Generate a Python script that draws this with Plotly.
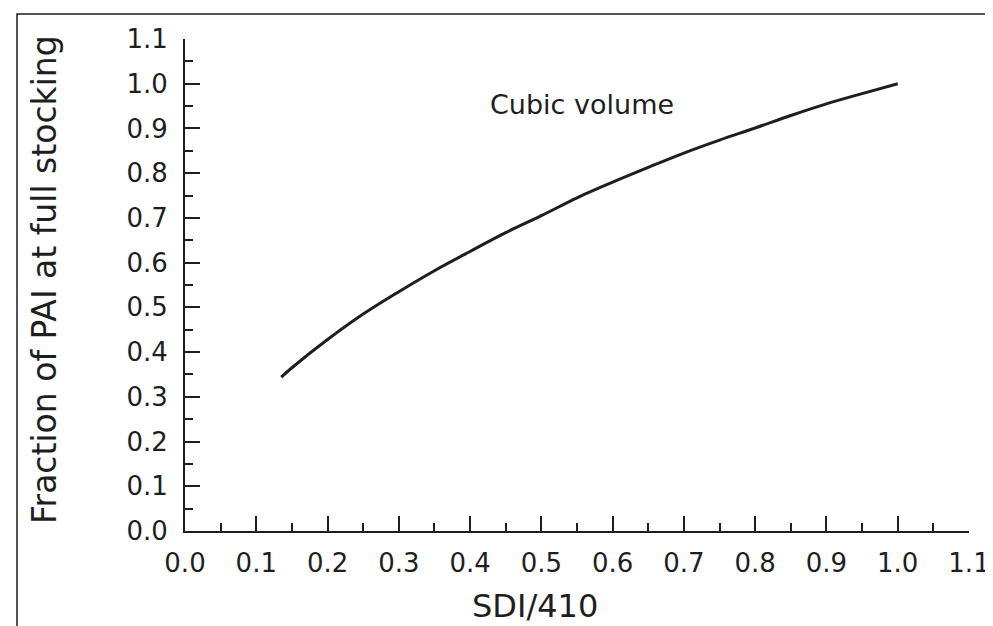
import plotly.graph_objects as go

# Data
sdi_ratio = [0.135, 0.15, 0.2, 0.25, 0.3, 0.35, 0.4, 0.45, 0.5, 0.55, 0.6,
             0.65, 0.7, 0.75, 0.8, 0.85, 0.9, 0.95, 1.0]
pai_fraction = [0.344, 0.365, 0.428, 0.485, 0.535, 0.582, 0.625, 0.667, 0.705,
                0.745, 0.780, 0.813, 0.845, 0.874, 0.901, 0.929, 0.955, 0.978, 1.0]

x_title = "SDI/410"
y_title = "Fraction of PAI at full stocking"
curve_label = "Cubic volume"

INK = "#1e1e1e"
FONT = "DejaVu Sans"

W, H = 993, 626
L, R, T, B = 177, 32, 31, 103
pw, ph = W - L - R, H - T - B


def px(xp):
    return (xp - L) / pw


def py(yp):
    return (H - B - yp) / ph


fig = go.Figure()
fig.add_trace(go.Scatter(
    x=sdi_ratio, y=pai_fraction, mode="lines",
    line=dict(color=INK, width=3, shape="spline"),
    showlegend=False, hoverinfo="skip",
))

axis_common = dict(
    range=[0, 1.1], dtick=0.1, tick0=0, tickformat=".1f",
    showgrid=False, zeroline=False,
    showline=True, linecolor=INK, linewidth=2,
    ticks="inside", ticklen=15, tickwidth=2, tickcolor=INK,
    minor=dict(ticks="inside", ticklen=8, tickwidth=2, tickcolor=INK, dtick=0.05, showgrid=False),
    tickfont=dict(family=FONT, size=26, color=INK),
)

fig.update_xaxes(**axis_common, ticklabelstandoff=8)
fig.update_yaxes(**axis_common, ticklabelstandoff=10)

fig.update_layout(
    width=W, height=H,
    margin=dict(l=L, r=R, t=T, b=B),
    paper_bgcolor="white", plot_bgcolor="white",
    font=dict(family=FONT, color=INK),
    shapes=[dict(
        type="path", xref="paper", yref="paper",
        path=f"M {px(9)} {py(640)} L {px(9)} {py(6)} L {px(988)} {py(6)} L {px(988)} {py(640)}",
        line=dict(color=INK, width=1.5),
    )],
    annotations=[
        dict(text=curve_label, x=0.557, y=0.953, xref="x", yref="y",
             xanchor="center", yanchor="middle",
             showarrow=False, font=dict(family=FONT, size=27, color=INK)),
        dict(text=x_title, x=px(527), y=py(598), xref="paper", yref="paper",
             xanchor="center", yanchor="middle",
             showarrow=False, font=dict(family=FONT, size=32, color=INK)),
        dict(text=y_title, x=px(36), y=py(272), xref="paper", yref="paper",
             xanchor="center", yanchor="middle",
             textangle=-90, showarrow=False, font=dict(family=FONT, size=33, color=INK)),
    ],
)

fig.write_html("out.html")
